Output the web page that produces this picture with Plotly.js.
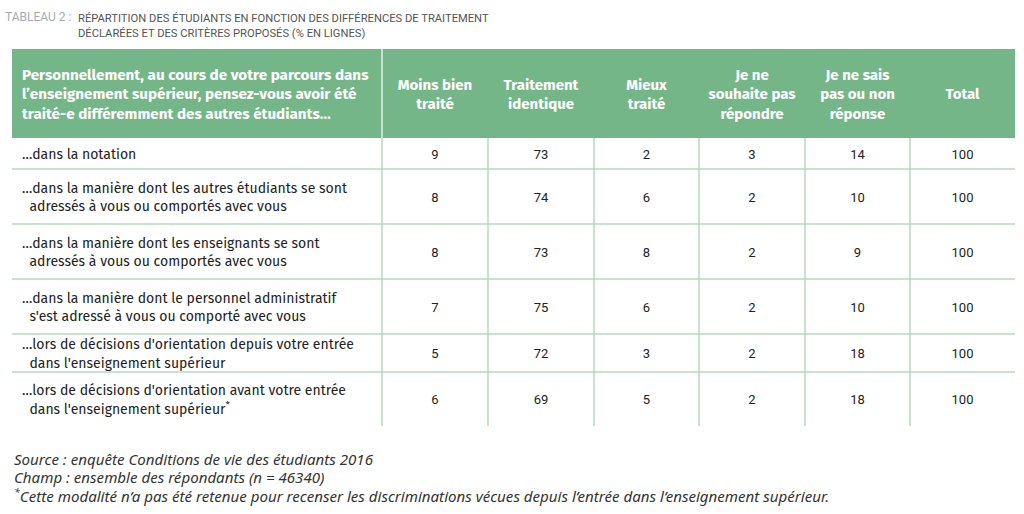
<!DOCTYPE html>
<html>
<head>
<meta charset="utf-8">
<script src="https://cdn.plot.ly/plotly-3.0.1.min.js"></script>
<style>html,body{margin:0;padding:0;background:#fff;}#chart{width:1024px;height:514px;}</style>
</head>
<body>
<div id="chart"></div>
<script>
// ---------- DATA ----------
const firstHeader = "Personnellement, au cours de votre parcours dans<br>l’enseignement supérieur, pensez-vous avoir été<br>traité-e différemment des autres étudiants…";
const colHeaders = ["Moins bien<br>traité", "Traitement<br>identique", "Mieux<br>traité", "Je ne<br>souhaite pas<br>répondre", "Je ne sais<br>pas ou non<br>réponse", "Total"];
const categories = [
  "…dans la notation",
  "…dans la manière dont les autres étudiants se sont<br>\u00a0\u00a0adressés à vous ou comportés avec vous",
  "…dans la manière dont les enseignants se sont<br>\u00a0\u00a0adressés à vous ou comportés avec vous",
  "…dans la manière dont le personnel administratif<br>\u00a0\u00a0s'est adressé à vous ou comporté avec vous",
  "…lors de décisions d'orientation depuis votre entrée<br>\u00a0\u00a0dans l'enseignement supérieur",
  "…lors de décisions d'orientation avant votre entrée<br>\u00a0\u00a0dans l'enseignement supérieur<sup>*</sup>"
];
const moinsBien   = [9, 8, 8, 7, 5, 6];
const identique   = [73, 74, 73, 75, 72, 69];
const mieux       = [2, 6, 8, 6, 3, 5];
const nonReponse  = [3, 2, 2, 2, 2, 2];
const neSaisPas   = [14, 10, 9, 10, 18, 18];
const total       = [100, 100, 100, 100, 100, 100];
const valueColumns = [moinsBien, identique, mieux, nonReponse, neSaisPas, total];

const titleLabel = "TABLEAU 2 :";
const titleText = "RÉPARTITION DES ÉTUDIANTS EN FONCTION DES DIFFÉRENCES DE TRAITEMENT<br>DÉCLARÉES ET DES CRITÈRES PROPOSÉS (% EN LIGNES)";
const footLines = [
  "Source : enquête Conditions de vie des étudiants 2016",
  "Champ : ensemble des répondants (n = 46340)",
  "<sup>*</sup>Cette modalité n’a pas été retenue pour recenser les discriminations vécues depuis l’entrée dans l’enseignement supérieur."
];

// ---------- STYLE / LAYOUT ----------
const GREEN = "#74b687";
const LINE = "#b4d8be";
const tableLeft = 12, tableTop = 49, headerH = 89;
const colWidths = [370, 106, 106, 105, 106, 105, 105];
const rowHeights = [31, 55, 55, 55, 38, 54];
const textPad = 10;
const textDy = 2;

const colEdges = [tableLeft];
colWidths.forEach(w => colEdges.push(colEdges[colEdges.length - 1] + w));
const tableRight = colEdges[colEdges.length - 1];
const rowEdges = [tableTop + headerH];
rowHeights.forEach(h => rowEdges.push(rowEdges[rowEdges.length - 1] + h));
const tableBottom = rowEdges[rowEdges.length - 1];
const colCenters = colEdges.slice(0, -1).map((e, i) => e + colWidths[i] / 2);
const rowCenters = rowEdges.slice(0, -1).map((e, i) => e + rowHeights[i] / 2 + textDy);
const headerCenter = tableTop + headerH / 2 + textDy;

const bodyFont = "'Fira Sans', 'Noto Sans', 'Open Sans', sans-serif";
const numFont = "Roboto, sans-serif";
const titleFont = "Roboto, sans-serif";
const footFont = "'Noto Sans', 'Open Sans', sans-serif";

const traces = [];
// header text (first column)
traces.push({
  type: "scatter", mode: "text", x: [tableLeft + textPad], y: [headerCenter],
  text: ["<b>" + firstHeader + "</b>"], textposition: "middle right",
  textfont: {family: bodyFont, size: 15.2, color: "#ffffff"},
  hoverinfo: "skip", cliponaxis: false, showlegend: false
});
// header text (value columns)
traces.push({
  type: "scatter", mode: "text", x: colCenters.slice(1), y: colHeaders.map(() => headerCenter),
  text: colHeaders.map(h => "<b>" + h + "</b>"), textposition: "middle center",
  textfont: {family: bodyFont, size: 15, color: "#ffffff"},
  hoverinfo: "skip", cliponaxis: false, showlegend: false
});
// row labels
traces.push({
  type: "scatter", mode: "text", x: categories.map(() => tableLeft + textPad), y: rowCenters,
  text: categories, textposition: "middle right",
  textfont: {family: bodyFont, size: 14, color: "#222222"},
  hoverinfo: "skip", cliponaxis: false, showlegend: false
});
// values
valueColumns.forEach((col, j) => {
  traces.push({
    type: "scatter", mode: "text", x: col.map(() => colCenters[j + 1]), y: rowCenters,
    text: col.map(String), textposition: "middle center",
    textfont: {family: numFont, size: 13, color: "#222222"},
    hoverinfo: "skip", cliponaxis: false, showlegend: false
  });
});

const shapes = [];
shapes.push({type: "rect", xref: "x", yref: "y", x0: tableLeft, x1: tableRight, y0: tableTop, y1: tableTop + headerH,
  fillcolor: GREEN, line: {width: 0}, layer: "below"});
shapes.push({type: "line", xref: "x", yref: "y", x0: colEdges[1], x1: colEdges[1], y0: tableTop, y1: tableTop + headerH,
  line: {color: "#ffffff", width: 1.2}});
rowEdges.slice(1, -1).forEach(y => shapes.push({type: "line", xref: "x", yref: "y", x0: tableLeft, x1: tableRight, y0: y, y1: y,
  line: {color: LINE, width: 1.5}, layer: "below"}));
colEdges.slice(1, -1).forEach(x => shapes.push({type: "line", xref: "x", yref: "y", x0: x, x1: x, y0: tableTop + headerH, y1: tableBottom,
  line: {color: LINE, width: 1.5}, layer: "below"}));

const annotations = [
  {xref: "x", yref: "y", x: 73, y: 17, xanchor: "right", yanchor: "middle", showarrow: false,
   text: titleLabel, font: {family: titleFont, size: 12, color: "#a3abb0"}},
  {xref: "x", yref: "y", x: 76, y: 26, xanchor: "left", yanchor: "middle", align: "left", showarrow: false,
   text: titleText, font: {family: titleFont, size: 11.2, color: "#555555"}}
];
footLines.forEach((t, i) => annotations.push({
  xref: "x", yref: "y", x: tableLeft, y: 459 + i * 18, xanchor: "left", yanchor: "middle", showarrow: false, align: "left",
  text: "<i>" + t + "</i>", font: {family: footFont, size: 15.1, color: "#333333"}
}));

const layout = {
  width: 1024, height: 514,
  margin: {l: 0, r: 0, t: 0, b: 0},
  paper_bgcolor: "#ffffff", plot_bgcolor: "#ffffff",
  xaxis: {range: [0, 1024], visible: false, fixedrange: true},
  yaxis: {range: [514, 0], visible: false, fixedrange: true},
  shapes: shapes, annotations: annotations, showlegend: false
};
Plotly.newPlot("chart", traces, layout, {displayModeBar: false, staticPlot: true});
</script>
</body>
</html>
